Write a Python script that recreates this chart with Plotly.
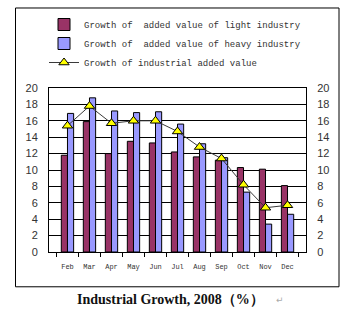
import plotly.graph_objects as go

months = ["Feb", "Mar", "Apr", "May", "Jun", "Jul", "Aug", "Sep", "Oct", "Nov", "Dec"]
light = [11.8, 15.9, 12.0, 13.5, 13.3, 12.2, 11.6, 11.2, 10.3, 10.1, 8.1]
heavy = [16.9, 18.8, 17.2, 17.0, 17.1, 15.6, 13.2, 11.5, 7.3, 3.4, 4.6]
total = [15.4, 17.8, 15.7, 16.0, 16.0, 14.7, 12.8, 11.4, 8.2, 5.4, 5.7]

names = ["Growth of  added value of light industry",
         "Growth of  added value of heavy industry",
         "Growth of industrial added value"]
title_text = "Industrial Growth, 2008（%）"
yticks = list(range(0, 21, 2))

# plot-area geometry in pixels
W, H = 354, 335
L, R, T, B = 49, 306, 87, 252
pw, ph = R - L, B - T

def px(x):
    return (x - L) / pw

def py(y):
    return (B - y) / ph

fig = go.Figure()
fig.add_trace(go.Bar(x=months, y=light, name=names[0],
                     marker=dict(color="#993366", line=dict(color="black", width=1))))
fig.add_trace(go.Bar(x=months, y=heavy, name=names[1],
                     marker=dict(color="#9999FF", line=dict(color="black", width=1))))
fig.add_trace(go.Scatter(x=months, y=total, name=names[2], mode="lines+markers",
                         line=dict(color="#3a3a3a", width=1),
                         marker=dict(symbol="triangle-up", size=9, color="#FFFF00",
                                     line=dict(color="black", width=1))))
fig.add_trace(go.Scatter(x=months, y=total, yaxis="y2", mode="lines",
                         line=dict(width=0), showlegend=False, hoverinfo="skip", opacity=0))

fig.update_layout(
    width=W, height=H,
    margin=dict(l=L, r=W - R, t=T, b=H - B, pad=0),
    paper_bgcolor="white", plot_bgcolor="white",
    barmode="group", bargap=0.44, bargroupgap=0,
    font=dict(family="Liberation Sans", size=11, color="#222"),
    legend=dict(x=px(44), y=py(10), xanchor="left", yanchor="top",
                font=dict(family="Liberation Mono", size=9, color="#333"),
                bgcolor="rgba(0,0,0,0)", tracegroupgap=0, itemwidth=30),
    xaxis=dict(showline=True, linecolor="black", linewidth=1, mirror=True,
               ticks="outside", tickson="boundaries", ticklen=4, tickcolor="black",
               tickangle=0,
               tickfont=dict(family="Liberation Mono", size=7, color="#333"),
               showgrid=False, ticklabelstandoff=8),
    yaxis=dict(range=[0, 20], tickvals=yticks, showgrid=True, gridcolor="black", gridwidth=1,
               showline=True, linecolor="black", linewidth=1, ticks="",
               tickfont=dict(family="Liberation Sans", size=11, color="#333"),
               ticklabelstandoff=8, zeroline=False, fixedrange=True),
    yaxis2=dict(range=[0, 20], tickvals=yticks, overlaying="y", side="right",
                showgrid=False, showline=True, linecolor="black", linewidth=1, ticks="",
                tickfont=dict(family="Liberation Sans", size=11, color="#333"),
                ticklabelstandoff=8, zeroline=False),
    shapes=[dict(type="rect", xref="paper", yref="paper",
                 x0=px(15.5), x1=px(339), y0=py(287), y1=py(6.5),
                 line=dict(color="black", width=1), fillcolor="rgba(0,0,0,0)")],
    annotations=[
        dict(text="<b>" + title_text + "</b>", xref="paper", yref="paper",
             x=px(170), y=py(300), xanchor="center", yanchor="middle", showarrow=False,
             font=dict(family="Liberation Serif", size=14, color="#111")),
        dict(text="↵", xref="paper", yref="paper", x=px(280), y=py(300),
             xanchor="center", yanchor="middle", showarrow=False,
             font=dict(family="DejaVu Sans", size=9, color="#aaa")),
    ],
)

fig.write_html("out.html")
